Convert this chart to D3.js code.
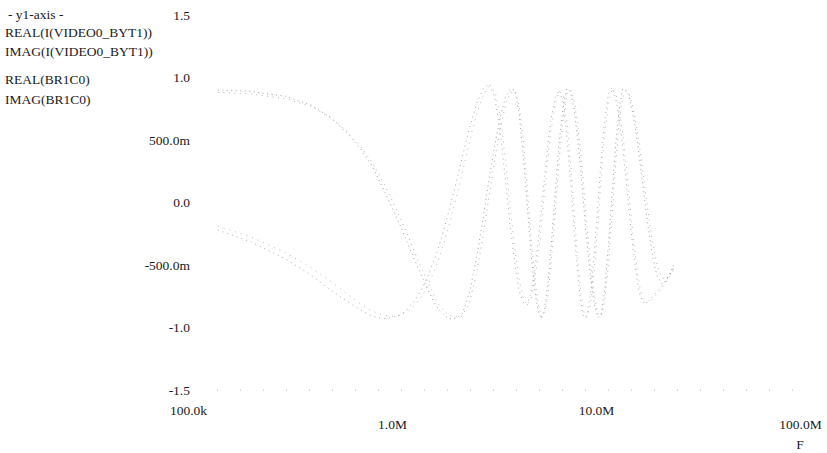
<!DOCTYPE html>
<html>
<head>
<meta charset="utf-8">
<script src="https://cdn.jsdelivr.net/npm/d3@7"></script>
<style>
  html, body { margin: 0; padding: 0; background: #ffffff; }
  svg { display: block; }
  text { font-family: "Liberation Serif", "DejaVu Serif", serif; fill: #1a1a1a; }
</style>
</head>
<body>
<svg id="chart" width="827" height="453"></svg>
<script>
// ---- data (frequency in MHz) ----
const freqMHz = [0.14,0.2,0.3,0.4,0.5,0.6,0.7,0.8,0.9,1.0,
  1.1,1.2,1.3,1.4,1.5,1.6,1.7,1.8,1.9,2.0,
  2.2,2.4,2.6,2.8,3.0,3.2,3.4,3.6,3.8,4.0,
  4.2,4.4,4.6,4.8,5.0,5.2,5.4,5.6,5.8,6.0,
  6.3,6.6,6.9,7.2,7.5,7.8,8.1,8.4,8.7,9.0,
  9.4,9.8,10.2,10.6,11.0,11.5,12.0,12.5,13.0,13.5,
  14.0,14.5,15.0,15.5,16.0,16.5,17.0,17.5,18.0,18.5,
  19.0,19.5,20.0,21.0,22.0,23.0,24.0];

const realVideoByt1 = [0.90,0.89,0.85,0.78,0.68,0.56,0.43,0.29,0.12,-0.04,
  -0.19,-0.34,-0.47,-0.59,-0.70,-0.79,-0.86,-0.90,-0.93,-0.93,
  -0.90,-0.72,-0.44,-0.12,0.20,0.47,0.69,0.84,0.91,0.90,
  0.71,0.37,-0.02,-0.40,-0.69,-0.87,-0.93,-0.85,-0.66,-0.39,
  0.06,0.48,0.78,0.91,0.89,0.75,0.54,0.27,-0.02,-0.29,
  -0.60,-0.81,-0.92,-0.89,-0.72,-0.35,0.08,0.47,0.75,0.91,
  0.90,0.85,0.75,0.62,0.47,0.30,0.13,-0.04,-0.19,-0.32,
  -0.44,-0.53,-0.59,-0.65,-0.63,-0.57,-0.50];

const imagVideoByt1 = [-0.22,-0.31,-0.45,-0.58,-0.70,-0.79,-0.86,-0.91,-0.93,-0.92,
  -0.90,-0.85,-0.78,-0.69,-0.59,-0.47,-0.35,-0.21,-0.07,0.07,
  0.35,0.60,0.79,0.91,0.95,0.83,0.55,0.18,-0.19,-0.49,
  -0.71,-0.80,-0.82,-0.72,-0.55,-0.31,-0.05,0.21,0.45,0.65,
  0.84,0.90,0.80,0.53,0.17,-0.21,-0.54,-0.79,-0.92,-0.91,
  -0.73,-0.41,-0.03,0.34,0.64,0.87,0.92,0.83,0.67,0.45,
  0.20,-0.05,-0.29,-0.49,-0.65,-0.75,-0.80,-0.80,-0.79,-0.77,
  -0.75,-0.73,-0.71,-0.67,-0.62,-0.57,-0.52];

const realBr1c0 = [0.88,0.87,0.83,0.77,0.68,0.57,0.45,0.32,0.17,0.02,
  -0.13,-0.27,-0.41,-0.53,-0.64,-0.74,-0.82,-0.87,-0.90,-0.91,
  -0.91,-0.80,-0.56,-0.26,0.06,0.36,0.60,0.78,0.88,0.89,
  0.78,0.50,0.13,-0.27,-0.59,-0.81,-0.91,-0.89,-0.75,-0.52,
  -0.10,0.34,0.68,0.87,0.90,0.82,0.65,0.41,0.13,-0.16,
  -0.49,-0.74,-0.89,-0.91,-0.80,-0.50,-0.09,0.32,0.64,0.84,
  0.89,0.87,0.80,0.69,0.55,0.40,0.24,0.08,-0.07,-0.21,
  -0.33,-0.43,-0.51,-0.60,-0.62,-0.59,-0.53];

const imagBr1c0 = [-0.19,-0.27,-0.40,-0.52,-0.63,-0.73,-0.81,-0.87,-0.90,-0.91,
  -0.90,-0.87,-0.82,-0.75,-0.66,-0.56,-0.45,-0.32,-0.19,-0.05,
  0.22,0.49,0.71,0.86,0.93,0.89,0.68,0.34,-0.04,-0.37,
  -0.62,-0.77,-0.82,-0.78,-0.64,-0.43,-0.18,0.09,0.34,0.56,
  0.78,0.89,0.86,0.66,0.33,-0.05,-0.41,-0.69,-0.87,-0.92,
  -0.82,-0.55,-0.19,0.19,0.52,0.80,0.91,0.88,0.75,0.56,
  0.33,0.08,-0.17,-0.39,-0.57,-0.70,-0.77,-0.80,-0.80,-0.79,
  -0.77,-0.75,-0.73,-0.69,-0.64,-0.59,-0.54];

const legendTitle = "- y1-axis -";
const seriesNames = ["REAL(I(VIDEO0_BYT1))", "IMAG(I(VIDEO0_BYT1))", "REAL(BR1C0)", "IMAG(BR1C0)"];
const yTickValues = [-1.5, -1.0, -0.5, 0, 0.5, 1.0, 1.5];
const yTickLabels = ["-1.5", "-1.0", "-500.0m", "0.0", "500.0m", "1.0", "1.5"];
const xTickValues = [0.1, 1, 10, 100];
const xTickLabels = ["100.0k", "1.0M", "10.0M", "100.0M"];
const xAxisTitle = "F";

// ---- drawing ----
const svg = d3.select("#chart");
const x = d3.scaleLog().domain([0.1, 100]).range([188, 800]);
const y = d3.scaleLinear().domain([-1.5, 1.5]).range([390, 15]);
const FS = 13.5;

// faint dotted frame bottom
svg.append("line")
  .attr("x1", 217).attr("x2", 805).attr("y1", y(-1.5)).attr("y2", y(-1.5))
  .attr("stroke", "#b0b0b0").attr("stroke-width", 1).attr("stroke-dasharray", "1,22");

// y axis
const yAxis = d3.axisLeft(y).tickValues(yTickValues)
  .tickFormat((d, i) => yTickLabels[i]).tickSize(0).tickPadding(3);
const gy = svg.append("g").attr("transform", "translate(193,0)").call(yAxis);
gy.select(".domain").remove();
gy.selectAll("text").attr("font-size", FS).attr("font-family", "Liberation Serif, serif").attr("fill", "#1a1a1a");

// x axis
const xAxis = d3.axisBottom(x).tickValues(xTickValues)
  .tickFormat((d, i) => xTickLabels[i]).tickSize(0).tickPadding(0);
const gx = svg.append("g").attr("transform", "translate(0,390)").call(xAxis);
gx.select(".domain").remove();
gx.selectAll("text")
  .attr("font-size", FS).attr("font-family", "Liberation Serif, serif").attr("fill", "#1a1a1a")
  .attr("y", (d, i) => (i % 2 === 0 ? 15 : 29));

svg.append("text").attr("x", x(100)).attr("y", 449).attr("text-anchor", "middle")
  .attr("font-size", FS).text(xAxisTitle);

// legend
const legendLines = [legendTitle].concat(seriesNames);
const legendY = [19, 37, 56, 84, 104];
svg.append("g").selectAll("text").data(legendLines).join("text")
  .attr("x", (d, i) => (i === 0 ? 8 : 5))
  .attr("y", (d, i) => legendY[i])
  .attr("font-size", FS)
  .text(d => d);

// series
const series = [realVideoByt1, imagVideoByt1, realBr1c0, imagBr1c0];
const dashes = ["1,3.5", "1,4", "1,4.5", "1,5"];
const colors = ["#8a8a8a", "#959595", "#a0a0a0", "#aaaaaa"];
const line = d3.line().x(d => x(d[0])).y(d => y(d[1]));
series.forEach((vals, k) => {
  const pts = freqMHz.map((f, i) => [f, vals[i]]);
  svg.append("path").datum(pts)
    .attr("d", line)
    .attr("fill", "none")
    .attr("stroke", colors[k])
    .attr("stroke-width", 0.8)
    .attr("stroke-dasharray", dashes[k]);
});
</script>
</body>
</html>
